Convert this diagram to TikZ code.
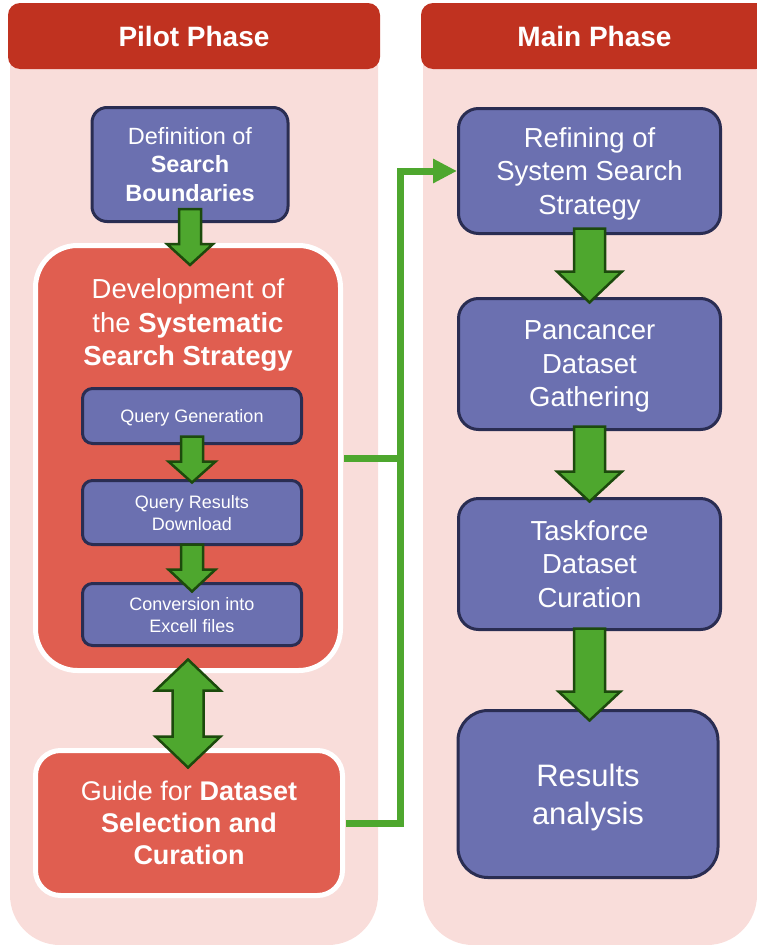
\documentclass[tikz,border=0pt]{standalone}
\usepackage{fontspec}
\setmainfont{Liberation Sans}
\usetikzlibrary{arrows.meta,calc}

\definecolor{hdrred}{RGB}{192,50,32}
\definecolor{panelpink}{RGB}{249,221,218}
\definecolor{boxred}{RGB}{224,94,80}
\definecolor{boxblue}{RGB}{107,112,176}
\definecolor{boxline}{RGB}{42,45,82}
\definecolor{arrowfill}{RGB}{78,167,46}
\definecolor{arrowline}{RGB}{28,74,12}

% downward block arrow: from, to, shaft start above from.south, tip below to.north,
% shaft half width, head half width, head length
\newcommand{\blockdown}[7]{%
  \draw[blockarrow] let \p1=(#1.south), \p2=(#2.north) in
    (\x1-#5,\y1+#3) -- (\x1+#5,\y1+#3) -- (\x1+#5,\y2-#4+#7) -- (\x1+#6,\y2-#4+#7)
    -- (\x1,\y2-#4) -- (\x1-#6,\y2-#4+#7) -- (\x1-#5,\y2-#4+#7) -- cycle;}
% two-headed vertical block arrow between two nodes
\newcommand{\blockboth}[7]{%
  \draw[blockarrow] let \p1=(#1.south), \p2=(#2.north) in
    (\x1,\y1+#3) -- (\x1+#6,\y1+#3-#7) -- (\x1+#5,\y1+#3-#7) -- (\x1+#5,\y2-#4+#7)
    -- (\x1+#6,\y2-#4+#7) -- (\x1,\y2-#4) -- (\x1-#6,\y2-#4+#7) -- (\x1-#5,\y2-#4+#7)
    -- (\x1-#5,\y1+#3-#7) -- (\x1-#6,\y1+#3-#7) -- cycle;}

\begin{document}
\begin{tikzpicture}[x=1pt,y=-1pt,
  hdr/.style={fill=hdrred, rounded corners=12pt, minimum height=66pt, inner sep=0pt,
    text depth=-3pt, text=white, font=\fontsize{28}{34}\selectfont\bfseries},
  bluebox/.style={draw=boxline, line width=3pt, fill=boxblue, text=white,
    align=center, inner sep=0pt},
  redbox/.style={draw=white, line width=5pt, fill=boxred, text=white,
    align=center, inner sep=0pt},
  subbox/.style={bluebox, rounded corners=10pt, minimum width=219pt, text depth=-4pt,
    font=\fontsize{18}{22}\selectfont},
  mainbox/.style={bluebox, rounded corners=20pt, minimum width=262pt, text depth=-4pt,
    font=\fontsize{27.5}{33.5}\selectfont},
  blockarrow/.style={fill=arrowfill, draw=arrowline, line width=2.5pt, line join=miter},
  conn/.style={draw=arrowfill, line width=7pt}]

\useasboundingbox (0,0) rectangle (756,945);

% phase panels
\fill[panelpink, rounded corners=50pt] (10,5) rectangle (378,945);
\fill[panelpink, rounded corners=50pt] (423,5) rectangle (757,945);

\node[hdr, minimum width=372pt] (pilothdr) at (194,36) {Pilot Phase};
\node[hdr, minimum width=347pt] (mainhdr) at (594.5,36) {Main Phase};

% pilot phase
\node[bluebox, rounded corners=15pt, minimum width=196pt, minimum height=114pt,
  font=\fontsize{23.5}{28.5}\selectfont] (def) at (190,164.5)
  {Definition of\\\textbf{Search}\\\textbf{Boundaries}};

\node[redbox, rounded corners=42pt, minimum width=305pt, minimum height=425pt] (dev) at (188,458) {};
\node[text=white, align=center, inner sep=0pt, font=\fontsize{27.5}{33.5}\selectfont]
  (devlabel) at (188,325) {Development of\\the \textbf{Systematic}\\\textbf{Search Strategy}};

\node[subbox, minimum height=55pt] (qg) at (192,416) {Query Generation};
\node[subbox, minimum height=64pt] (qr) at (192,512.5) {Query Results\\Download};
\node[subbox, minimum height=62pt] (cv) at (192,614.5) {Conversion into\\Excell files};

\node[redbox, rounded corners=25pt, minimum width=307pt, minimum height=145pt,
  font=\fontsize{27}{32}\selectfont] (guide) at (189,823)
  {Guide for \textbf{Dataset}\\\textbf{Selection and}\\\textbf{Curation}};

% main phase
\node[mainbox, minimum height=125pt] (ref) at (589.5,171) {Refining of\\System Search\\Strategy};
\node[mainbox, minimum height=131pt] (pan) at (589.5,364) {Pancancer\\Dataset\\Gathering};
\node[mainbox, minimum height=131pt] (task) at (589.5,564) {Taskforce\\Dataset\\Curation};
\node[bluebox, rounded corners=30pt, minimum width=260pt, minimum height=167pt,
  text depth=-3.5pt, font=\fontsize{31}{38}\selectfont] (res) at (588,794) {Results\\analysis};

% links from the pilot phase to the main phase
\coordinate (bus) at (400.5,458);
\draw[conn] ($(dev.east)+(1,0)$) -- (dev.east -| bus);
\draw[conn, -{Triangle[length=24pt,width=23pt]}]
  ($(guide.east)+(1,0)$) -| (bus |- ref.west) -- (ref.west);

% block arrows
\blockdown{def}{dev}{14pt}{22pt}{11pt}{23pt}{21pt}
\blockdown{qg}{qr}{8.5pt}{3.5pt}{11pt}{23.5pt}{21pt}
\blockdown{qr}{cv}{1.5pt}{9.5pt}{11pt}{23.5pt}{22pt}
\blockboth{dev}{guide}{13.5pt}{19.5pt}{15.5pt}{32.5pt}{31pt}
\blockdown{ref}{pan}{6.5pt}{5.5pt}{15.5pt}{32.5pt}{31pt}
\blockdown{pan}{task}{4.5pt}{4.5pt}{15.5pt}{32.5pt}{30pt}
\blockdown{task}{res}{2.5pt}{11.5pt}{15.5pt}{31pt}{29pt}

\end{tikzpicture}
\end{document}
